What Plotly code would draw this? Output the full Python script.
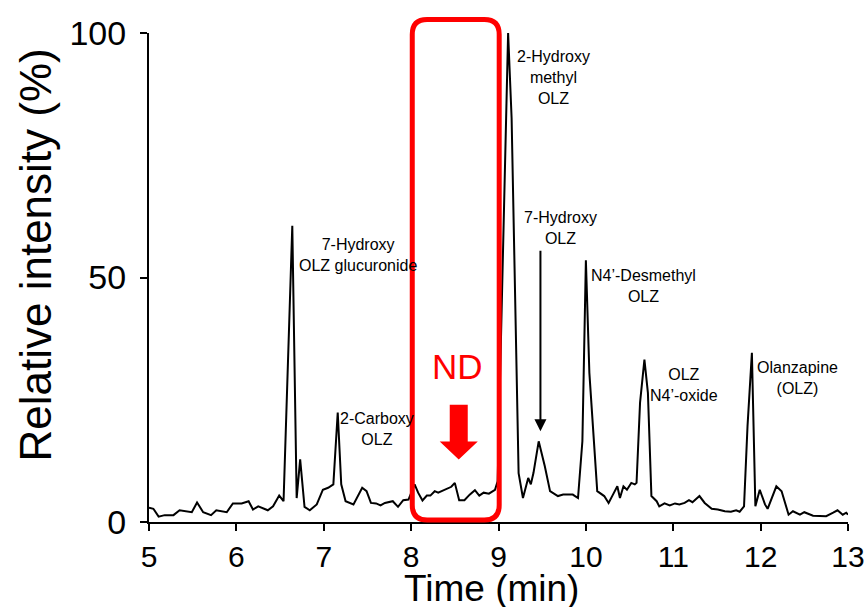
import plotly.graph_objects as go

# ---- data ----
time_min = [5.00, 5.05, 5.11, 5.18, 5.28, 5.35, 5.49, 5.55, 5.62, 5.71, 5.77, 5.89, 5.96,
            6.06, 6.14, 6.19, 6.25, 6.36, 6.42, 6.49, 6.54, 6.64, 6.69, 6.73, 6.78, 6.84,
            6.92, 6.99, 7.05, 7.11, 7.16, 7.20, 7.25, 7.34, 7.44, 7.49, 7.54, 7.60, 7.65,
            7.70, 7.79, 7.85, 7.91, 7.97, 8.04, 8.08, 8.13, 8.18, 8.22, 8.27, 8.31, 8.37,
            8.42, 8.46, 8.50, 8.55, 8.61, 8.67, 8.73, 8.78, 8.83, 8.89, 8.96, 8.99, 9.11,
            9.15, 9.23, 9.28, 9.34, 9.37, 9.40, 9.46, 9.53, 9.59, 9.68, 9.74, 9.85, 9.91,
            9.96, 10.00, 10.04, 10.13, 10.21, 10.26, 10.31, 10.36, 10.39, 10.43, 10.47,
            10.52, 10.56, 10.58, 10.62, 10.67, 10.71, 10.75, 10.81, 10.84, 10.90, 10.96,
            11.02, 11.07, 11.13, 11.18, 11.22, 11.26, 11.30, 11.36, 11.44, 11.51, 11.59,
            11.66, 11.72, 11.76, 11.81, 11.85, 11.90, 11.94, 11.99, 12.05, 12.08, 12.18,
            12.24, 12.32, 12.37, 12.45, 12.50, 12.60, 12.75, 12.83, 12.88, 12.94, 12.98, 13.00]
intensity = [2.9, 2.7, 1.1, 1.4, 1.4, 2.4, 2.0, 4.0, 2.0, 1.4, 2.4, 2.0, 3.8,
             3.8, 4.25, 2.55, 3.2, 2.4, 3.2, 5.4, 4.25, 60.6, 4.9, 12.8, 3.1, 2.4,
             3.6, 6.6, 7.0, 7.7, 22.4, 7.7, 4.25, 3.6, 7.0, 6.3, 3.9, 3.8, 3.4,
             3.9, 4.25, 3.1, 4.45, 4.6, 7.7, 6.0, 4.4, 5.4, 5.4, 6.3, 6.0, 6.5,
             7.0, 7.2, 8.0, 4.45, 4.45, 5.6, 6.5, 5.4, 6.0, 5.8, 6.6, 8.3, 100.0,
             82.6, 10.0, 4.9, 9.0, 7.7, 10.0, 16.5, 11.4, 6.3, 5.3, 5.6, 5.6, 4.9,
             16.5, 53.5, 30.5, 6.3, 5.3, 3.9, 5.6, 7.3, 4.9, 7.3, 6.6,
             8.0, 7.7, 8.0, 24.4, 33.2, 26.4, 5.3, 4.25, 3.2, 3.8, 3.4,
             3.8, 3.6, 3.9, 4.45, 4.05, 4.7, 5.3, 3.9, 2.7, 2.55, 2.2,
             2.1, 2.4, 2.1, 3.2, 19.6, 34.6, 3.2, 6.6, 3.6, 2.7, 7.3,
             6.3, 1.5, 2.2, 1.5, 2.0, 1.3, 1.2, 1.9, 2.4, 1.5, 1.9, 1.5]

x_ticks = [5, 6, 7, 8, 9, 10, 11, 12, 13]
y_ticks = [0, 50, 100]

peak_labels = ["7-Hydroxy<br>OLZ glucuronide", "2-Carboxy<br>OLZ", "2-Hydroxy<br>methyl<br>OLZ",
               "7-Hydroxy<br>OLZ", "N4’-Desmethyl<br>OLZ", "OLZ<br>N4’-oxide", "Olanzapine<br>(OLZ)"]
label_x = [7.39, 7.61, 9.63, 9.71, 10.66, 11.12, 12.42]
label_y = [54.6, 19.1, 91.0, 60.1, 48.2, 28.1, 29.5]

nd_window = [8.013, 9.008]       # the not-detected time window (min)
arrow_target = [9.48, 18.55]     # 7-Hydroxy OLZ arrow tip

FONT = "Liberation Sans, Arial, Helvetica, sans-serif"

fig = go.Figure()
fig.add_trace(go.Scatter(x=time_min, y=intensity, mode="lines",
                         line=dict(color="black", width=2),
                         hoverinfo="skip", showlegend=False))

annotations = []
for t, xv, yv in zip(peak_labels, label_x, label_y):
    annotations.append(dict(x=xv, y=yv, xref="x", yref="y", text=t, showarrow=False,
                            font=dict(family=FONT, size=16, color="black"),
                            xanchor="center", yanchor="middle", align="center"))

# ND label
annotations.append(dict(x=8.53, y=31.7, xref="x", yref="y", text="ND", showarrow=False,
                        font=dict(family=FONT, size=35, color="#ff0000"),
                        xanchor="center", yanchor="middle"))

# black arrow to 7-Hydroxy OLZ
annotations.append(dict(x=arrow_target[0], y=arrow_target[1], xref="x", yref="y", text="",
                        showarrow=True, ax=0, ay=-182, arrowhead=2, arrowsize=1.2,
                        arrowwidth=2, arrowcolor="black"))

# axis titles
annotations.append(dict(x=0.490, y=-0.135, xref="paper", yref="paper", text="Time (min)",
                        showarrow=False, font=dict(family=FONT, size=37, color="black"),
                        xanchor="center", yanchor="middle"))
annotations.append(dict(x=-0.162, y=0.5465, xref="paper", yref="paper",
                        text="Relative intensity (%)", textangle=-90,
                        showarrow=False, font=dict(family=FONT, size=44, color="black"),
                        xanchor="center", yanchor="middle"))

# rounded red box (x in data, y in paper)
x0, x1 = nd_window
y0, y1 = 0.004, 1.0276
rx, ry = 0.17, 0.0306
box_path = (f"M{x0+rx},{y0} L{x1-rx},{y0} Q{x1},{y0} {x1},{y0+ry} "
            f"L{x1},{y1-ry} Q{x1},{y1} {x1-rx},{y1} L{x0+rx},{y1} "
            f"Q{x0},{y1} {x0},{y1-ry} L{x0},{y0+ry} Q{x0},{y0} {x0+rx},{y0} Z")

# red block arrow (data coords)
ax_c = 8.545
arrow_path = (f"M{ax_c-0.103},24.0 L{ax_c+0.103},24.0 L{ax_c+0.103},16.45 "
              f"L{ax_c+0.218},16.45 L{ax_c},12.77 L{ax_c-0.218},16.45 "
              f"L{ax_c-0.103},16.45 Z")

shapes = [
    dict(type="path", path=box_path, xref="x", yref="paper",
         line=dict(color="#ff0000", width=5), fillcolor="rgba(0,0,0,0)", layer="above"),
    dict(type="path", path=arrow_path, xref="x", yref="y",
         line=dict(color="#ff0000", width=0), fillcolor="#ff0000", layer="above"),
]

fig.update_layout(
    width=864, height=607,
    margin=dict(l=149, r=15.5, t=33, b=84.5, pad=0, autoexpand=False),
    paper_bgcolor="white", plot_bgcolor="white",
    font=dict(family=FONT, color="black"),
    annotations=annotations, shapes=shapes,
    showlegend=False,
)
fig.update_xaxes(range=[5, 13], tickvals=x_ticks, ticktext=[str(v) for v in x_ticks],
                 ticks="outside", ticklen=7, tickwidth=2, tickcolor="black",
                 showline=True, linewidth=2, linecolor="black", automargin=False,
                 showgrid=False, zeroline=False, ticklabeloverflow="allow",
                 tickfont=dict(family=FONT, size=30, color="black"))
fig.update_yaxes(range=[0, 100], tickvals=y_ticks, ticktext=[str(v) for v in y_ticks],
                 ticks="outside", ticklen=7, tickwidth=2, tickcolor="black",
                 showline=True, linewidth=2, linecolor="black", automargin=False,
                 showgrid=False, zeroline=False, ticklabeloverflow="allow",
                 ticklabelstandoff=7,
                 tickfont=dict(family=FONT, size=34, color="black"))

fig.write_html("out.html", config={"displayModeBar": False},
               post_script="document.body.style.margin='0';")
